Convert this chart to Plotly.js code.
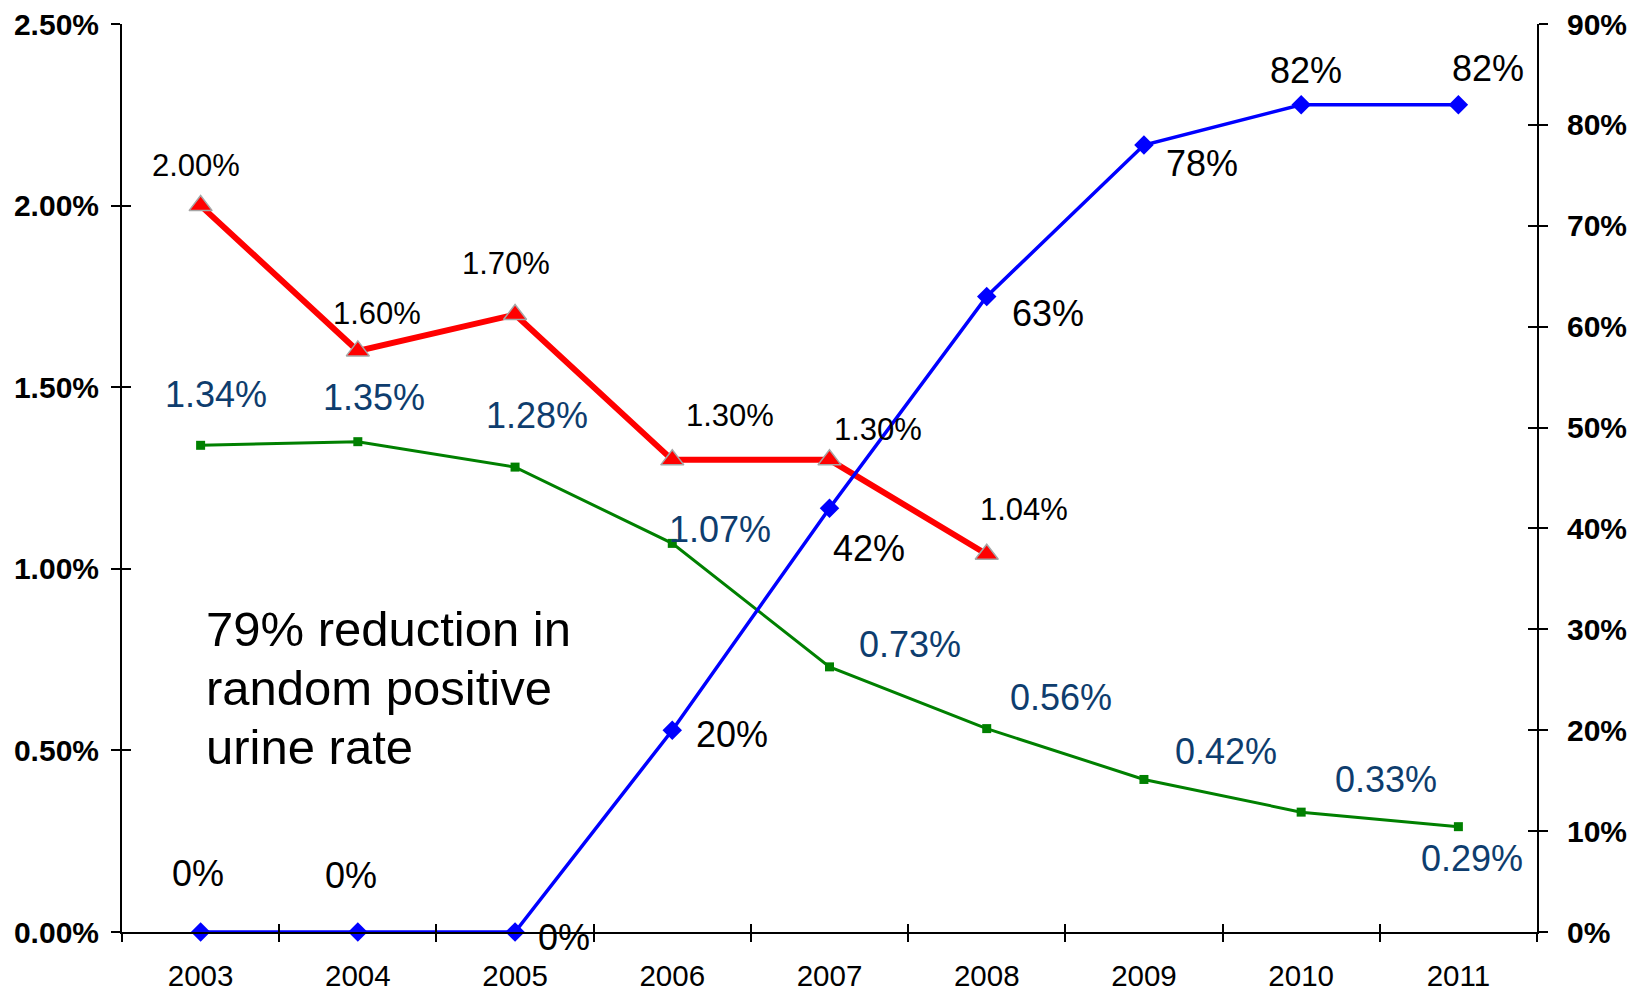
<!DOCTYPE html>
<html>
<head>
<meta charset="utf-8">
<script src="https://cdn.plot.ly/plotly-3.0.1.min.js"></script>
<style>html,body{margin:0;padding:0;background:#fff;}#chart{width:1629px;height:991px;}</style>
</head>
<body>
<div id="chart"></div>
<script>
// ---- data ----
var years = ['2003','2004','2005','2006','2007','2008','2009','2010','2011'];
var redYears = ['2003','2004','2005','2006','2007','2008'];
var redValues = [0.0200, 0.0160, 0.0170, 0.0130, 0.0130, 0.0104];
var greenValues = [0.0134, 0.0135, 0.0128, 0.0107, 0.0073, 0.0056, 0.0042, 0.0033, 0.0029];
var blueValues = [0, 0, 0, 0.20, 0.42, 0.63, 0.78, 0.82, 0.82];
var redLabels = ['2.00%','1.60%','1.70%','1.30%','1.30%','1.04%'];
var greenLabels = ['1.34%','1.35%','1.28%','1.07%','0.73%','0.56%','0.42%','0.33%','0.29%'];
var blueLabels = ['0%','0%','0%','20%','42%','63%','78%','82%','82%'];
var noteLines = ['79% reduction in', 'random positive', 'urine rate'];

// label offsets (pixels) – style only
var redShift = [[-5,40],[19,37],[-9,51],[58,44],[48,30],[37,45]];
var greenShift = [[15,51],[16,44],[22,52],[48,14],[80,22],[74,31],[82,28],[85,33],[14,-32]];
var blueShift = [[-3,59],[-7,57],[49,-5],[60,-4],[39,-40],[61,-17],[58,-18],[5,34],[30,36]];
var noteY = [0.334, 0.269, 0.204];

var FONT = 'Liberation Sans, Arial, sans-serif';

var traces = [
  {x: years, y: greenValues, type: 'scatter', mode: 'lines+markers', xaxis: 'x', yaxis: 'y',
   line: {color: '#008000', width: 3}, marker: {symbol: 'square', size: 9, color: '#008000'},
   hoverinfo: 'skip', cliponaxis: false},
  {x: redYears, y: redValues, type: 'scatter', mode: 'lines+markers', xaxis: 'x', yaxis: 'y',
   line: {color: '#FF0000', width: 6}, marker: {symbol: 'triangle-up', size: 20, color: '#FF0000', line: {color: '#A6A6A6', width: 1.5}},
   hoverinfo: 'skip', cliponaxis: false},
  {x: years, y: blueValues, type: 'scatter', mode: 'lines+markers', xaxis: 'x', yaxis: 'y2',
   line: {color: '#0000FF', width: 3.5}, marker: {symbol: 'diamond', size: 15, color: '#0000FF'},
   hoverinfo: 'skip', cliponaxis: false}
];

var annotations = [];
redYears.forEach(function(yr, i){
  annotations.push({x: years.indexOf(yr), y: redValues[i], xref: 'x', yref: 'y', text: redLabels[i], showarrow: false,
    xshift: redShift[i][0], yshift: redShift[i][1], font: {family: FONT, size: 31, color: '#000000'}});
});
years.forEach(function(yr, i){
  annotations.push({x: i, y: greenValues[i], xref: 'x', yref: 'y', text: greenLabels[i], showarrow: false,
    xshift: greenShift[i][0], yshift: greenShift[i][1], font: {family: FONT, size: 36, color: '#0E3D6E'}});
  annotations.push({x: i, y: blueValues[i], xref: 'x', yref: 'y2', text: blueLabels[i], showarrow: false,
    xshift: blueShift[i][0], yshift: blueShift[i][1], font: {family: FONT, size: 36, color: '#000000'}});
});
noteLines.forEach(function(t, i){
  annotations.push({x: 0.058, y: noteY[i], xref: 'paper', yref: 'paper', xanchor: 'left', yanchor: 'middle', align: 'left',
    text: t, showarrow: false, font: {family: FONT, size: 49, color: '#000000'}});
});

var bounds = [];
for (var i = 0; i <= years.length; i++) bounds.push(i - 0.5);

var layout = {
  width: 1629, height: 991,
  margin: {l: 122, r: 92, t: 24, b: 59},
  paper_bgcolor: '#ffffff', plot_bgcolor: 'rgba(0,0,0,0)',
  showlegend: false,
  font: {family: FONT, color: '#000000'},
  xaxis: {type: 'category', categoryorder: 'array', categoryarray: years, range: [-0.5, years.length - 0.5],
    showline: true, linecolor: '#000000', linewidth: 2, showgrid: false, zeroline: false,
    ticks: 'outside', tickson: 'boundaries', ticklen: 8, tickwidth: 2, tickcolor: '#000000',
    ticklabelstandoff: 17, tickfont: {family: FONT, size: 29.5, color: '#000000'}, fixedrange: true},
  xaxis2: {overlaying: 'x', anchor: 'y', range: [-0.5, years.length - 0.5], tickmode: 'array', tickvals: bounds,
    ticks: 'inside', ticklen: 8, tickwidth: 2, tickcolor: '#000000', showticklabels: false,
    showline: false, showgrid: false, zeroline: false},
  yaxis: {range: [0, 0.025], dtick: 0.005, tickformat: '.2%', showline: true, linecolor: '#000000', linewidth: 2,
    showgrid: false, zeroline: false, ticks: 'outside', ticklen: 9, tickwidth: 2, tickcolor: '#000000',
    ticklabelstandoff: 6, tickfont: {family: FONT, size: 30, color: '#000000', weight: 'bold'}},
  yaxis2: {overlaying: 'y', side: 'right', anchor: 'x', range: [0, 0.9], dtick: 0.1, tickformat: '.0%',
    showline: true, linecolor: '#000000', linewidth: 2, showgrid: false, zeroline: false,
    ticks: 'outside', ticklen: 9, tickwidth: 2, tickcolor: '#000000',
    ticklabelstandoff: 13, tickfont: {family: FONT, size: 30, color: '#000000', weight: 'bold'}},
  yaxis3: {overlaying: 'y', side: 'left', anchor: 'x', range: [0, 0.025], dtick: 0.005, showticklabels: false,
    ticks: 'inside', ticklen: 9, tickwidth: 2, tickcolor: '#000000', showline: false, showgrid: false, zeroline: false},
  yaxis4: {overlaying: 'y', side: 'right', anchor: 'x', range: [0, 0.9], dtick: 0.1, showticklabels: false,
    ticks: 'inside', ticklen: 9, tickwidth: 2, tickcolor: '#000000', showline: false, showgrid: false, zeroline: false},
  annotations: annotations
};

// empty helper traces so that the overlay tick axes are drawn
traces.push({x: [], y: [], xaxis: 'x2', yaxis: 'y3', type: 'scatter', hoverinfo: 'skip', showlegend: false});
traces.push({x: [], y: [], xaxis: 'x2', yaxis: 'y4', type: 'scatter', hoverinfo: 'skip', showlegend: false});

Plotly.newPlot('chart', traces, layout, {displayModeBar: false, staticPlot: true});
</script>
</body>
</html>
